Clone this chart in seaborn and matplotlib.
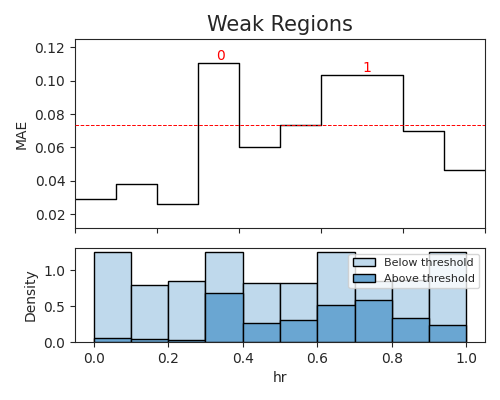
import numpy as np
import pandas as pd
import seaborn as sns
import matplotlib
matplotlib.use("Agg")
import matplotlib.pyplot as plt
from matplotlib.patches import Patch

sns.set_style("ticks")
plt.rcParams['font.family'] = ['DejaVu Sans']

# Top panel: MAE per bin (10 bins)
mae_values = [0.0289, 0.0379, 0.0258, 0.1105, 0.0600, 0.0733, 0.1032, 0.1032, 0.0700, 0.0462]
threshold = 0.0735
region_labels = ["0", "1"]
region_label_x = [3.55, 7.12]
region_label_y = [0.1105, 0.1032]

# Bottom panel: density histogram of hr
hist_edges = [0.0, 0.1, 0.2, 0.3, 0.4, 0.5, 0.6, 0.7, 0.8, 0.9, 1.0]
below_density = [1.25, 0.79, 0.845, 1.25, 0.83, 0.83, 1.25, 0.85, 0.86, 1.25]
above_density = [0.061, 0.038, 0.028, 0.69, 0.271, 0.313, 0.522, 0.592, 0.341, 0.243]

light = "#bfd9ec"
dark = "#6aa6d2"

fig = plt.figure(figsize=(5, 4), dpi=100)
ax1 = fig.add_axes([0.15, 0.43, 0.82, 0.4725])
ax2 = fig.add_axes([0.15, 0.145, 0.82, 0.235])

# step line
n = len(mae_values)
step_df = pd.DataFrame({"x": np.arange(n + 1), "mae": mae_values + [mae_values[-1]]})
sns.lineplot(data=step_df, x="x", y="mae", drawstyle="steps-post", color="black",
             linewidth=1, ax=ax1)
ax1.axhline(threshold, color="red", linestyle="--", linewidth=0.7, zorder=5)
for lab, lx, ly in zip(region_labels, region_label_x, region_label_y):
    ax1.text(lx, ly, lab, color="red", ha="center", va="bottom", fontsize=10)
ax1.set_xlim(0, n)
ax1.set_ylim(0.0116, 0.125)
ax1.set_xticks(np.arange(0, n + 1, 2))
ax1.set_xticklabels([])
ax1.set_xlabel("")
ax1.set_ylabel("MAE")
ax1.set_yticks([0.02, 0.04, 0.06, 0.08, 0.10, 0.12])
ax1.set_title("Weak Regions", fontsize=15)
for s in ax1.spines.values():
    s.set_visible(True)

centers = [(a + b) / 2 for a, b in zip(hist_edges[:-1], hist_edges[1:])]
sns.histplot(x=centers, weights=below_density, bins=hist_edges, color=light, alpha=1,
             edgecolor="black", linewidth=1, ax=ax2)
sns.histplot(x=centers, weights=above_density, bins=hist_edges, color=dark, alpha=1,
             edgecolor="black", linewidth=1, ax=ax2)
ax2.set_xlim(-0.05, 1.05)
ax2.set_ylim(0, 1.3125)
ax2.set_xticks([0.0, 0.2, 0.4, 0.6, 0.8, 1.0])
ax2.set_yticks([0.0, 0.5, 1.0])
ax2.set_xlabel("hr")
ax2.set_ylabel("Density")
for s in ax2.spines.values():
    s.set_visible(True)
handles = [Patch(facecolor=light, edgecolor="black", label="Below threshold"),
           Patch(facecolor=dark, edgecolor="black", label="Above threshold")]
ax2.legend(handles=handles, loc="upper right", fontsize=8)

fig.savefig("out.png", dpi=100)
